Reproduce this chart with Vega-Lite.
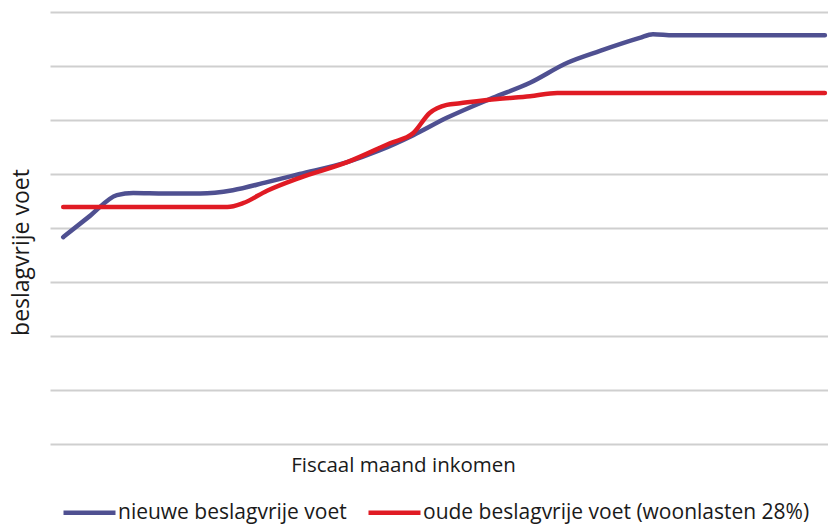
{
  "$schema": "https://vega.github.io/schema/vega-lite/v6.json",
  "width": 778,
  "height": 432,
  "autosize": "none",
  "padding": {"left": 50, "top": 12, "right": 0, "bottom": 80},
  "background": "white",
  "config": {
    "view": {"stroke": null},
    "font": "Open Sans"
  },
  "data": {
    "values": [
      {"inkomen": 1.7, "voet": 3.83, "serie": "nieuwe beslagvrije voet"},
      {"inkomen": 5.1, "voet": 4.22, "serie": "nieuwe beslagvrije voet"},
      {"inkomen": 8.6, "voet": 4.61, "serie": "nieuwe beslagvrije voet"},
      {"inkomen": 10.7, "voet": 4.65, "serie": "nieuwe beslagvrije voet"},
      {"inkomen": 14.8, "voet": 4.64, "serie": "nieuwe beslagvrije voet"},
      {"inkomen": 19.3, "voet": 4.64, "serie": "nieuwe beslagvrije voet"},
      {"inkomen": 23.5, "voet": 4.70, "serie": "nieuwe beslagvrije voet"},
      {"inkomen": 27.9, "voet": 4.85, "serie": "nieuwe beslagvrije voet"},
      {"inkomen": 32.1, "voet": 5.00, "serie": "nieuwe beslagvrije voet"},
      {"inkomen": 38.2, "voet": 5.22, "serie": "nieuwe beslagvrije voet"},
      {"inkomen": 42.4, "voet": 5.44, "serie": "nieuwe beslagvrije voet"},
      {"inkomen": 46.7, "voet": 5.72, "serie": "nieuwe beslagvrije voet"},
      {"inkomen": 51.0, "voet": 6.04, "serie": "nieuwe beslagvrije voet"},
      {"inkomen": 56.9, "voet": 6.41, "serie": "nieuwe beslagvrije voet"},
      {"inkomen": 61.7, "voet": 6.69, "serie": "nieuwe beslagvrije voet"},
      {"inkomen": 66.5, "voet": 7.06, "serie": "nieuwe beslagvrije voet"},
      {"inkomen": 70.7, "voet": 7.28, "serie": "nieuwe beslagvrije voet"},
      {"inkomen": 75.8, "voet": 7.52, "serie": "nieuwe beslagvrije voet"},
      {"inkomen": 77.5, "voet": 7.59, "serie": "nieuwe beslagvrije voet"},
      {"inkomen": 80.1, "voet": 7.57, "serie": "nieuwe beslagvrije voet"},
      {"inkomen": 90.0, "voet": 7.57, "serie": "nieuwe beslagvrije voet"},
      {"inkomen": 99.6, "voet": 7.57, "serie": "nieuwe beslagvrije voet"},
      {"inkomen": 1.7, "voet": 4.39, "serie": "oude beslagvrije voet (woonlasten 28%)"},
      {"inkomen": 12.9, "voet": 4.39, "serie": "oude beslagvrije voet (woonlasten 28%)"},
      {"inkomen": 22.8, "voet": 4.39, "serie": "oude beslagvrije voet (woonlasten 28%)"},
      {"inkomen": 24.8, "voet": 4.46, "serie": "oude beslagvrije voet (woonlasten 28%)"},
      {"inkomen": 27.9, "voet": 4.69, "serie": "oude beslagvrije voet (woonlasten 28%)"},
      {"inkomen": 32.1, "voet": 4.93, "serie": "oude beslagvrije voet (woonlasten 28%)"},
      {"inkomen": 38.2, "voet": 5.22, "serie": "oude beslagvrije voet (woonlasten 28%)"},
      {"inkomen": 43.7, "voet": 5.57, "serie": "oude beslagvrije voet (woonlasten 28%)"},
      {"inkomen": 46.7, "voet": 5.76, "serie": "oude beslagvrije voet (woonlasten 28%)"},
      {"inkomen": 48.8, "voet": 6.13, "serie": "oude beslagvrije voet (woonlasten 28%)"},
      {"inkomen": 51.0, "voet": 6.28, "serie": "oude beslagvrije voet (woonlasten 28%)"},
      {"inkomen": 52.7, "voet": 6.31, "serie": "oude beslagvrije voet (woonlasten 28%)"},
      {"inkomen": 57.5, "voet": 6.39, "serie": "oude beslagvrije voet (woonlasten 28%)"},
      {"inkomen": 61.7, "voet": 6.44, "serie": "oude beslagvrije voet (woonlasten 28%)"},
      {"inkomen": 65.2, "voet": 6.50, "serie": "oude beslagvrije voet (woonlasten 28%)"},
      {"inkomen": 77.1, "voet": 6.50, "serie": "oude beslagvrije voet (woonlasten 28%)"},
      {"inkomen": 99.6, "voet": 6.50, "serie": "oude beslagvrije voet (woonlasten 28%)"}
    ]
  },
  "mark": {"type": "line", "interpolate": "monotone", "strokeWidth": 4.5, "strokeCap": "round"},
  "encoding": {
    "x": {
      "field": "inkomen",
      "type": "quantitative",
      "scale": {"domain": [0, 100], "nice": false, "zero": false},
      "axis": {
        "title": "Fiscaal maand inkomen",
        "labels": false,
        "ticks": false,
        "domain": false,
        "grid": false,
        "titleFont": "Open Sans",
        "titleFontSize": 20.5,
        "titleFontWeight": "normal",
        "titleColor": "#1a1a1a",
        "titleX": 353,
        "titleY": 27,
        "titleAlign": "center",
        "titleBaseline": "alphabetic"
      }
    },
    "y": {
      "field": "voet",
      "type": "quantitative",
      "scale": {"domain": [0, 8], "nice": false, "zero": true},
      "axis": {
        "title": "beslagvrije voet",
        "labels": false,
        "ticks": false,
        "domain": false,
        "grid": true,
        "values": [0, 1, 2, 3, 4, 5, 6, 7, 8],
        "gridColor": "#cfcfcf",
        "gridWidth": 2,
        "titleFont": "Open Sans",
        "titleFontSize": 23,
        "titleFontWeight": "normal",
        "titleColor": "#1a1a1a",
        "titleX": -22,
        "titleY": 240,
        "titleAngle": -90,
        "titleAlign": "center",
        "titleBaseline": "alphabetic"
      }
    },
    "color": {
      "field": "serie",
      "type": "nominal",
      "scale": {
        "domain": ["nieuwe beslagvrije voet", "oude beslagvrije voet (woonlasten 28%)"],
        "range": ["#4f5091", "#e01b24"]
      },
      "legend": {
        "title": null,
        "orient": "none",
        "direction": "horizontal",
        "legendX": 11,
        "legendY": 472,
        "padding": 0,
        "symbolType": "stroke",
        "symbolSize": 2704,
        "symbolStrokeWidth": 4.5,
        "labelFont": "Open Sans",
        "labelFontSize": 21,
        "labelColor": "#1a1a1a",
        "labelOffset": 0,
        "labelLimit": 500,
        "columnPadding": 12
      }
    }
  }
}
